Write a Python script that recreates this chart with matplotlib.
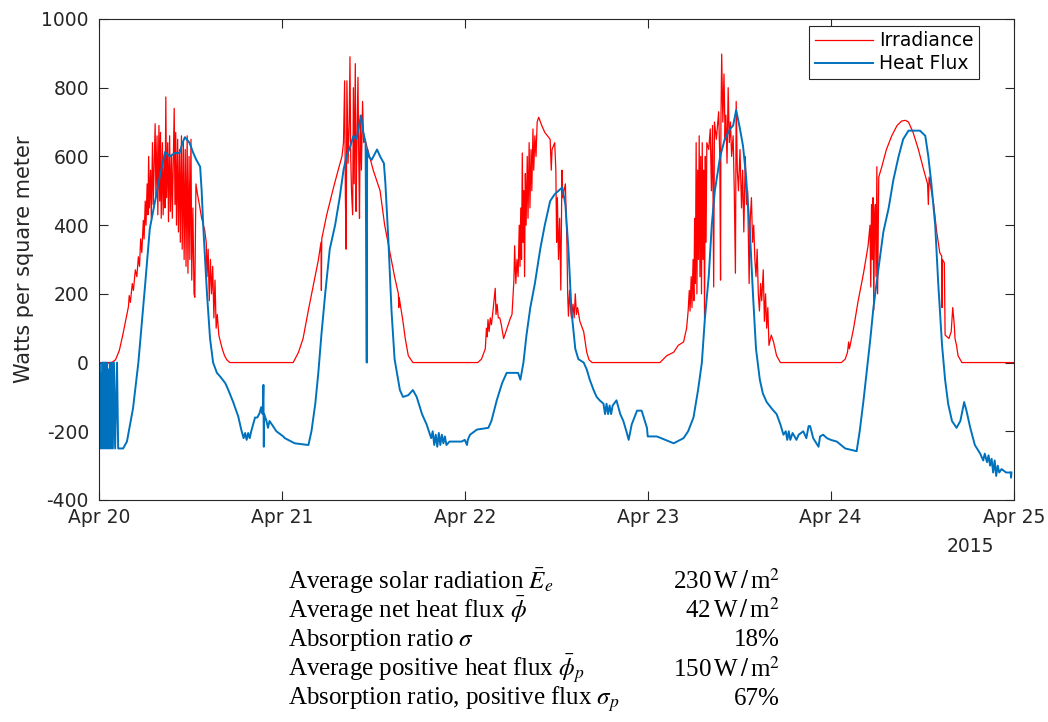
import numpy as np
import matplotlib
matplotlib.use("Agg")
import matplotlib.pyplot as plt
import matplotlib.dates as mdates

# ---------------- data (hours after 2015-04-20 00:00, W/m^2) ----------------
irradiance = [
    # Apr 20
    (0, 0), (1.7, 0), (2.2, 8), (2.7, 35), (3.2, 85), (3.6, 130), (3.9, 163), (4.0, 195), (4.15, 175),
    (4.4, 230), (4.55, 210), (4.8, 270), (5.0, 250), (5.2, 308), (5.35, 280), (5.5, 360), (5.65, 320),
    (5.85, 414), (5.95, 360), (6.1, 470), (6.2, 400), (6.35, 520), (6.45, 430), (6.55, 600), (6.65, 450),
    (6.8, 560), (6.9, 420), (7.05, 640), (7.15, 460), (7.4, 695), (7.5, 480), (7.65, 660), (7.75, 430),
    (7.9, 690), (8.0, 470), (8.1, 670), (8.2, 420), (8.35, 640), (8.45, 430), (8.6, 600), (8.7, 450),
    (8.8, 773), (8.9, 480), (9.05, 640), (9.15, 410), (9.3, 660), (9.4, 440), (9.55, 600), (9.65, 420),
    (9.9, 740), (10.0, 460), (10.1, 670), (10.2, 400), (10.35, 650), (10.45, 380), (10.6, 620), (10.7, 350),
    (10.85, 660), (10.95, 330), (11.1, 640), (11.2, 300), (11.35, 620), (11.45, 280), (11.6, 660), (11.7, 260),
    (11.85, 600), (11.95, 300), (12.1, 650), (12.2, 240), (12.35, 450), (12.5, 200), (12.6, 190), (12.75, 520),
    (12.95, 490), (13.2, 460), (13.5, 420), (13.9, 385), (14.1, 350), (14.2, 250), (14.35, 330), (14.5, 180),
    (14.65, 300), (14.8, 200), (14.95, 280), (15.1, 130), (15.25, 240), (15.4, 100), (15.55, 140), (15.75, 80),
    (15.9, 66), (16.2, 40), (16.5, 20), (16.8, 8), (17.2, 0),
    # Apr 21
    (25.5, 0), (26.2, 30), (26.8, 70), (27.5, 153), (28.1, 220), (28.8, 298), (29.15, 350), (29.2, 210),
    (29.25, 360), (29.9, 430), (30.8, 510), (31.4, 560), (31.9, 600), (32.1, 640), (32.25, 820), (32.35, 480),
    (32.45, 330), (32.55, 820), (32.7, 580), (32.85, 700), (32.95, 890), (33.05, 600), (33.15, 500), (33.3, 430),
    (33.4, 800), (33.5, 520), (33.65, 870), (33.75, 440), (33.85, 620), (34.0, 830), (34.1, 600), (34.2, 420),
    (34.3, 720), (34.45, 560), (34.6, 760), (34.75, 640), (34.9, 650), (35.4, 610), (36.0, 560), (36.9, 500),
    (37.5, 400), (38.2, 320), (38.8, 250), (39.3, 200), (39.35, 160), (39.4, 190), (39.9, 120), (40.2, 70),
    (40.6, 20), (41.2, 0),
    # Apr 22
    (49.7, 0), (50.2, 10), (50.7, 40), (50.85, 100), (50.95, 75), (51.05, 125), (51.2, 90), (51.35, 130),
    (51.5, 110), (51.7, 150), (52.0, 216), (52.1, 140), (52.25, 170), (52.4, 130), (52.6, 130), (52.8, 110),
    (53.1, 70), (53.4, 90), (53.7, 110), (54.0, 130), (54.2, 140), (54.45, 240), (54.55, 340), (54.7, 230),
    (54.85, 300), (55.0, 250), (55.15, 400), (55.25, 280), (55.35, 450), (55.45, 300), (55.55, 610), (55.65, 350),
    (55.75, 500), (55.85, 250), (55.95, 550), (56.05, 400), (56.2, 600), (56.3, 420), (56.45, 640), (56.55, 450),
    (56.7, 620), (56.8, 500), (56.95, 680), (57.05, 560), (57.2, 660), (57.35, 600), (57.5, 700), (57.7, 714),
    (58.1, 690), (58.5, 670), (59.2, 650), (59.35, 560), (59.45, 620), (59.8, 640), (59.95, 560), (60.05, 350),
    (60.15, 480), (60.3, 300), (60.45, 420), (60.6, 211), (60.75, 560), (60.85, 480), (61.2, 520), (61.4, 350),
    (61.5, 200), (61.6, 135), (61.75, 210), (61.9, 150), (62.0, 130), (62.2, 170), (62.35, 130), (62.5, 200),
    (62.65, 140), (62.8, 160), (63.1, 120), (63.6, 90), (64.0, 30), (64.3, 8), (64.7, 0),
    # Apr 23
    (73.6, 0), (74.5, 20), (75.4, 30), (76.0, 50), (76.7, 60), (77.1, 100), (77.3, 150), (77.45, 210),
    (77.55, 150), (77.7, 250), (77.8, 160), (77.95, 300), (78.05, 180), (78.15, 420), (78.25, 230), (78.35, 640),
    (78.45, 200), (78.55, 560), (78.65, 300), (78.75, 660), (78.85, 250), (78.95, 600), (79.05, 200), (79.15, 640),
    (79.25, 300), (79.35, 560), (79.45, 130), (79.55, 600), (79.65, 350), (79.75, 640), (80.0, 620), (80.2, 680),
    (80.35, 500), (80.5, 690), (80.65, 220), (80.75, 700), (81.0, 650), (81.3, 730), (81.45, 600), (81.55, 240),
    (81.6, 700), (81.7, 898), (81.85, 700), (82.0, 840), (82.15, 650), (82.25, 720), (82.4, 580), (82.55, 800),
    (82.7, 640), (82.85, 700), (83.0, 600), (83.2, 660), (83.35, 500), (83.5, 260), (83.6, 760), (83.75, 560),
    (83.9, 500), (84.1, 620), (84.3, 450), (84.45, 560), (84.6, 380), (84.8, 600), (84.95, 460), (85.1, 500),
    (85.3, 230), (85.45, 420), (85.6, 480), (85.75, 350), (85.9, 400), (86.05, 300), (86.2, 250), (86.35, 330),
    (86.5, 200), (86.65, 150), (86.8, 230), (86.95, 180), (87.15, 270), (87.3, 120), (87.45, 200), (87.6, 100),
    (87.75, 160), (87.9, 50), (88.2, 80), (88.5, 60), (88.9, 20), (89.4, 0),
    # Apr 24
    (97.4, 0), (97.9, 10), (98.2, 30), (98.35, 60), (98.45, 40), (99.0, 100), (99.6, 180), (100.3, 260),
    (100.9, 340), (101.15, 400), (101.25, 220), (101.35, 460), (101.45, 300), (101.55, 480), (101.65, 153),
    (101.75, 420), (101.85, 460), (101.95, 250), (102.05, 570), (102.15, 200), (102.3, 540), (102.7, 570),
    (103.3, 620), (104.0, 660), (104.7, 690), (105.3, 703), (105.8, 705), (106.2, 700), (106.8, 670),
    (107.5, 620), (108.2, 560), (108.7, 520), (108.8, 460), (108.9, 540), (109.5, 460), (109.9, 380),
    (110.3, 320), (110.55, 310), (110.6, 160), (110.65, 300), (110.9, 290), (111.0, 80), (111.5, 70),
    (111.8, 90), (112.0, 160), (112.2, 110), (112.3, 70), (112.5, 50), (112.7, 20), (113.2, 0), (120, 0),
]

heat_flux = [
    # Apr 20
    (0.0, -250), (0.1, 0), (0.2, -250), (0.3, -30), (0.4, -250), (0.5, 0), (0.6, -250), (0.7, 0),
    (0.8, -250), (0.9, 0), (1.0, -250), (1.1, 0), (1.2, -250), (1.3, -20), (1.4, -250), (1.5, 0),
    (1.6, -250), (1.7, 0), (1.85, -250), (2.0, 0), (2.15, -250), (2.4, 0), (2.55, -250),
    (3.2, -250), (3.7, -230), (4.5, -133), (5.2, 0), (6.1, 230), (6.7, 390), (7.4, 470), (8.0, 540),
    (8.7, 613), (9.3, 600), (10.0, 610), (10.6, 610), (11.0, 640), (11.3, 656), (11.9, 640), (12.4, 610),
    (12.8, 590), (13.3, 570), (13.5, 500), (13.7, 400), (14.2, 200), (14.6, 70), (15.0, 0), (15.5, -30),
    (15.9, -40), (16.6, -60), (17.0, -80), (17.6, -113), (18.3, -157), (18.7, -196), (19.0, -220),
    (19.2, -205), (19.4, -225), (19.6, -205), (19.8, -220), (20.0, -200), (20.5, -160), (20.8, -160),
    (21.1, -147), (21.3, -130), (21.5, -150), (21.6, -65), (21.65, -245), (21.7, -150), (22.0, -170),
    (22.2, -190), (22.4, -170), (22.7, -180), (23.3, -200), (24.2, -215),
    # Apr 21
    (24.4, -220), (25.7, -235), (27.5, -240), (27.9, -200), (28.4, -120), (28.8, -30), (29.2, 80),
    (29.7, 200), (30.3, 330), (31.0, 400), (31.6, 480), (32.1, 560), (32.5, 600), (33.0, 630), (33.4, 660),
    (33.8, 650), (34.4, 719), (34.7, 670), (35.0, 640), (35.15, 0), (35.2, 620), (35.4, 600), (35.8, 590),
    (36.5, 620), (36.9, 600), (37.4, 580), (37.6, 520), (38.0, 350), (38.4, 150), (38.8, 10), (39.5, -80),
    (39.9, -100), (40.6, -95), (41.2, -80), (41.7, -100), (42.4, -150), (43.0, -180), (43.6, -220),
    (43.8, -200), (44.0, -240), (44.2, -210), (44.4, -245), (44.6, -205), (44.8, -240), (45.0, -210),
    (45.2, -235), (45.4, -215), (45.6, -240), (46.0, -230), (47.6, -230),
    # Apr 22
    (48.0, -225), (48.3, -240), (48.4, -225), (48.7, -210), (49.6, -195), (51.1, -190), (51.5, -170),
    (52.2, -110), (52.9, -60), (53.5, -30), (55.0, -30), (55.3, -50), (55.7, 0), (56.1, 80), (56.6, 160),
    (57.2, 230), (57.9, 330), (58.5, 400), (59.2, 470), (59.8, 490), (60.3, 500), (60.8, 510), (61.2, 460),
    (61.6, 330), (62.0, 150), (62.5, 40), (62.9, 10), (63.6, 0), (64.0, -20), (64.4, -50), (64.9, -80),
    (65.3, -100), (65.7, -110), (66.2, -120), (66.4, -150), (66.6, -120), (66.8, -150), (67.0, -125),
    (67.2, -150), (67.4, -125), (67.9, -110), (68.4, -150), (68.8, -170), (69.2, -200), (69.5, -225),
    (69.9, -180), (70.6, -140), (71.2, -140), (71.9, -190),
    # Apr 23
    (72.0, -215), (73.2, -215), (74.3, -225), (75.4, -235), (76.7, -220), (77.3, -200), (78.0, -160),
    (78.6, -80), (79.1, 0), (79.5, 130), (80.0, 250), (80.4, 400), (80.8, 500), (81.5, 600), (82.1, 650),
    (82.8, 680), (83.2, 690), (83.6, 735), (84.1, 680), (84.5, 630), (84.9, 540), (85.4, 380), (85.8, 200),
    (86.2, 40), (86.7, -50), (87.1, -90), (87.6, -115), (88.3, -135), (88.9, -150), (89.4, -180),
    (89.8, -210), (90.1, -200), (90.3, -225), (90.5, -200), (90.7, -225), (91.0, -205), (91.5, -225),
    (91.8, -210), (92.4, -200), (92.8, -220), (93.1, -185), (93.3, -185), (93.7, -220), (94.4, -245),
    (94.6, -215), (95.0, -210), (95.5, -220), (96.0, -225),
    # Apr 24
    (96.8, -230), (97.9, -250), (99.4, -258), (99.8, -200), (100.3, -110), (100.7, -30), (101.2, 70),
    (101.6, 160), (102.3, 280), (102.9, 380), (103.6, 450), (104.2, 530), (104.9, 600), (105.5, 650),
    (106.2, 675), (107.7, 675), (108.4, 660), (108.8, 600), (109.2, 520), (109.7, 400), (110.1, 230),
    (110.6, 50), (111.0, -50), (111.4, -120), (111.9, -170), (112.5, -190), (113.0, -170), (113.5, -115),
    (113.8, -140), (114.3, -190), (114.9, -240), (115.6, -265), (116.0, -285), (116.2, -265), (116.5, -290),
    (116.7, -270), (116.9, -300), (117.1, -280), (117.3, -320), (117.5, -285), (117.7, -330), (117.9, -300),
    (118.1, -320), (118.4, -310), (119.0, -320), (119.6, -320), (119.65, -335), (119.7, -320),
]

series_labels = ["Irradiance", "Heat Flux"]
y_label = "Watts per square meter"
y_ticks = [-400, -200, 0, 200, 400, 600, 800, 1000]
start_date = "2015-04-20"
n_days = 5

table_labels = [
    r"Average solar radiation $\bar{E}_e$",
    r"Average net heat flux $\bar{\phi}$",
    r"Absorption ratio $\sigma$",
    r"Average positive heat flux $\bar{\phi}_p$",
    r"Absorption ratio, positive flux $\sigma_p$",
]
table_values = [
    r"230$\,$W$\,/\,$m$^2$",
    r"42$\,$W$\,/\,$m$^2$",
    "18%",
    r"150$\,$W$\,/\,$m$^2$",
    "67%",
]

# ---------------- plotting ----------------
plt.rcParams["mathtext.fontset"] = "stix"
plt.rcParams["font.family"] = ["DejaVu Sans"]

base = np.datetime64(start_date + "T00:00:00")


def to_dates(hours):
    secs = np.round(np.asarray(hours, dtype=float) * 3600).astype("int64")
    return base + secs.astype("timedelta64[s]")


irr_h, irr_v = zip(*irradiance)
hf_h, hf_v = zip(*heat_flux)

fig = plt.figure(figsize=(10.48, 7.22), dpi=100)
ax = fig.add_axes([0.0942, 0.3075, 0.8731, 0.6662])

dark = "#262626"
ax.plot(to_dates(irr_h), irr_v, color="#FF0000", lw=0.9, label=series_labels[0])
ax.plot(to_dates(hf_h), hf_v, color="#0072BD", lw=1.4, label=series_labels[1])

ax.set_xlim(base, base + np.timedelta64(n_days, "D"))
ax.set_ylim(y_ticks[0], y_ticks[-1])
ax.set_yticks(y_ticks)
ax.set_yticklabels([str(t) for t in y_ticks])
ax.xaxis.set_major_locator(mdates.DayLocator())
ax.xaxis.set_major_formatter(mdates.DateFormatter("%b %d"))

ax.tick_params(direction="in", top=True, right=True, length=6.5, width=0.8,
               colors=dark, labelsize=13.5)
ax.tick_params(axis="x", pad=6)
ax.tick_params(axis="y", pad=7)
for sp in ax.spines.values():
    sp.set_color(dark)
    sp.set_linewidth(0.8)

ax.set_ylabel(y_label, fontsize=15, color=dark)
ax.yaxis.set_label_coords(-0.071, 0.5)

fig.text(970 / 1048, 1 - 547 / 722, "2015", ha="center", va="center",
         fontsize=13.5, color=dark)

leg = ax.legend(loc="upper right", bbox_to_anchor=(0.962, 0.986), borderaxespad=0,
                fancybox=False, framealpha=1, edgecolor=dark, fontsize=13.5,
                handlelength=3.1, handletextpad=0.3, labelspacing=0.2,
                borderpad=0.3)
leg.get_frame().set_linewidth(0.8)

# statistics table
x_left = 288 / 1048
x_right = 780 / 1048
baselines = [589, 618, 646, 676.5, 705]
for lab, val, yb in zip(table_labels, table_values, baselines):
    fig.text(x_left, 1 - yb / 722, lab, ha="left", va="baseline",
             fontsize=18, family="Liberation Serif", color="black")
    fig.text(x_right, 1 - yb / 722, val, ha="right", va="baseline",
             fontsize=18, family="Liberation Serif", color="black")

fig.savefig("out.png", dpi=100, facecolor="white")
